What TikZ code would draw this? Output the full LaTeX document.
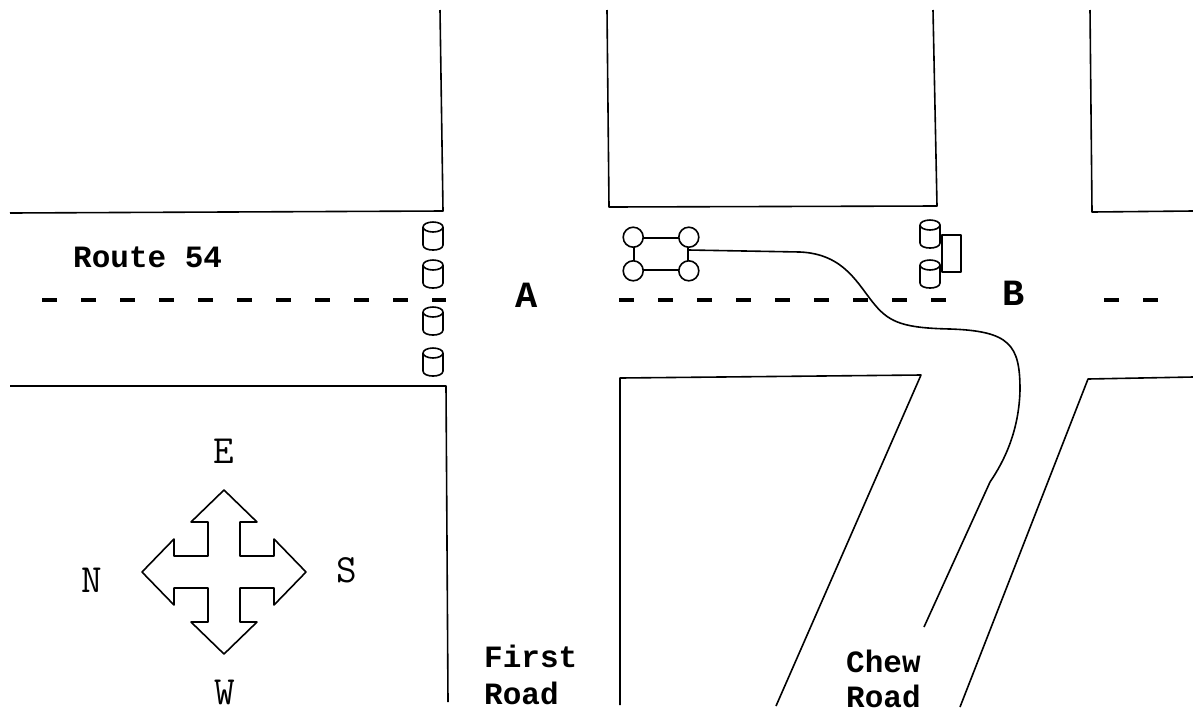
\documentclass[tikz,border=0pt]{standalone}
\usepackage{fontspec}
\newfontfamily\heavymono{Liberation Mono}
\newcommand\streetfont{\heavymono\bfseries\fontsize{31}{31}\selectfont}
\newcommand\spotfont{\heavymono\bfseries\fontsize{37}{37}\selectfont}
\newcommand\windfont{\ttfamily\fontsize{40}{40}\selectfont}

\begin{document}
\begin{tikzpicture}[
    x = 1pt,
    y = -1pt,
    line join = round,
    curb/.style = {line width = 1.6pt},
    lane/.style = {line width = 3.6pt, dash pattern = on 15pt off 24pt},
    carbody/.style = {rectangle, draw, line width = 1.6pt, inner sep = 0pt},
    wheel/.style = {circle, draw, fill = white, line width = 1.6pt, minimum size = 20pt, inner sep = 0pt},
    street/.style = {font = \streetfont, anchor = base west, inner sep = 0pt},
    spot/.style = {font = \spotfont, inner sep = 0pt},
    wind/.style = {font = \windfont, inner sep = 0pt},
    drum/.pic = {
        \draw[curb, fill = white] (-10,0) -- (-10,18) .. controls (-10,24.7) and (10,24.7) .. (10,18) -- (10,0);
        \draw[curb] (0,0) ellipse [x radius = 10pt, y radius = 5pt];
    }
]

\fill[white] (0,0) rectangle (1193,713);
\useasboundingbox (0,0) rectangle (1193,713);

% Blocks
\draw[curb] (440,10) -- (443,211) -- (10,213);
\draw[curb] (10,386) -- (446,386) -- (448,702);
\draw[curb] (607,10) -- (609,207) -- (937,206) -- (933,10);
\draw[curb] (1090,10) -- (1092,212) -- (1193,211);
\draw[curb] (620,705) -- (620,378) -- (921,375) -- (776,706);
\draw[curb] (1193,377) -- (1088,379) -- (960,707);

% Centre line
\draw[lane] (42,300) -- (446,300);
\draw[lane] (619,300) -- (946,300);
\draw[lane] (1104,300) -- (1160,300);

% Drums
\pic at (433,227) {drum};
\pic at (433,265) {drum};
\pic at (433,312) {drum};
\pic at (433,353) {drum};
\pic at (930,225) {drum};
\pic at (930,265) {drum};

\node[carbody, minimum width = 19pt, minimum height = 37pt] (barrier) at (951.5,253.5) {};

% Car and its track
\node[carbody, minimum width = 54pt, minimum height = 32pt] (car) at (661,254) {};

\coordinate (t1) at (800,252);
\coordinate (t2) at (875,305);
\coordinate (t3) at (950,329);
\coordinate (t4) at (1020,390);
\coordinate (t5) at (990,482);
\coordinate (t6) at (924,627);

\draw[curb] ([yshift = 4pt]car.east) -- (t1)
    .. controls (845,254) and (858,285) .. (t2)
    .. controls (890,323) and (905,328) .. (t3)
    .. controls (1010,331) and (1020,345) .. (t4)
    .. controls (1019,430) and (1005,460) .. (t5)
    -- (t6);

\node[wheel] (fl) at (car.north west) {};
\node[wheel] (fr) at (car.north east) {};
\node[wheel] (rl) at (car.south west) {};
\node[wheel] (rr) at (car.south east) {};

% Compass
\draw[curb, shift = {(224,572)}]
    (-16,-16) -- (-16,-50) -- (-33,-50) -- (0,-82) -- (33,-50) -- (16,-50) --
    (16,-16) -- (50,-16) -- (50,-33) -- (82,0) -- (50,33) -- (50,16) --
    (16,16) -- (16,50) -- (33,50) -- (0,82) -- (-33,50) -- (-16,50) --
    (-16,16) -- (-50,16) -- (-50,33) -- (-82,0) -- (-50,-33) -- (-50,-16) -- cycle;

\node[wind] (east)  at (224,451) {E};
\node[wind] (north) at (92,580)  {N};
\node[wind] (south) at (347,570) {S};
\node[wind] (west)  at (225,692) {W};

% Labels
\node[street] (route)     at (73,267)  {Route 54};
\node[street] (first)     at (484,667) {First};
\node[street] (firstroad) at (484,704) {Road};
\node[street] (chew)      at (846,672) {Chew};
\node[street] (chewroad)  at (846,707) {Road};

\node[spot] (A) at (527,295) {A};
\node[spot] (B) at (1014,293) {B};

\end{tikzpicture}
\end{document}
